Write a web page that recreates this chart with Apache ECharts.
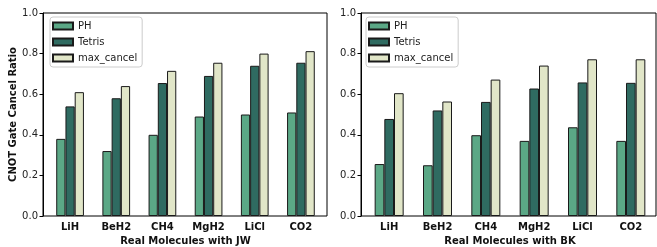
<!DOCTYPE html>
<html>
<head>
<meta charset="utf-8">
<script src="https://cdn.jsdelivr.net/npm/echarts@6/dist/echarts.min.js"></script>
<style>
  html, body { margin: 0; padding: 0; background: #fff; }
  #chart { width: 657px; height: 247px; }
</style>
</head>
<body>
<div id="chart"></div>
<script>
// molecules on the x axis
const molecules = ['LiH', 'BeH2', 'CH4', 'MgH2', 'LiCl', 'CO2']
const seriesNames = ['PH', 'Tetris', 'max_cancel']
const yTicks = [0, 0.2, 0.4, 0.6, 0.8, 1.0]

// JW encoding (left panel)
const jwPH = [0.38, 0.32, 0.40, 0.49, 0.50, 0.51]
const jwTetris = [0.54, 0.58, 0.655, 0.69, 0.74, 0.755]
const jwMax = [0.61, 0.64, 0.715, 0.755, 0.80, 0.812]

// BK encoding (right panel)
const bkPH = [0.256, 0.25, 0.398, 0.37, 0.437, 0.37]
const bkTetris = [0.478, 0.52, 0.562, 0.628, 0.658, 0.656]
const bkMax = [0.605, 0.564, 0.672, 0.741, 0.772, 0.772]

const colors = ['#5ba886', '#2f6b61', '#e1e6c8']
const font = 'DejaVu Sans'
const textColor = '#111'

// grids 0/1: frames with the visible y axis, grids 2/3: bars (matplotlib-like x margins)
const frames = [
  { left: 43, top: 13, width: 284, height: 203 },
  { left: 361, top: 13, width: 295, height: 203 }
]
const inner = [
  { left: 47, top: 13, width: 277, height: 203 },
  { left: 365, top: 13, width: 290, height: 203 }
]

function frameX(idx) {
  return { type: 'value', gridIndex: idx, show: false, min: 0, max: 1 }
}

function barX(idx, name) {
  return {
    type: 'category',
    gridIndex: idx,
    data: molecules,
    name: name,
    nameLocation: 'middle',
    nameGap: 12,
    nameTextStyle: { fontFamily: font, fontSize: 10, fontWeight: 'bold', color: textColor },
    axisLine: { show: false },
    axisTick: { alignWithLabel: true, length: 3.5, lineStyle: { color: '#000' } },
    axisLabel: { fontFamily: font, fontSize: 10, fontWeight: 'bold', color: textColor, margin: 6 }
  }
}

function frameY(idx, name) {
  return {
    type: 'value',
    gridIndex: idx,
    min: 0,
    max: 1,
    interval: 0.2,
    name: name,
    nameLocation: 'middle',
    nameGap: 25,
    nameTextStyle: { fontFamily: font, fontSize: 10, fontWeight: 'bold', color: textColor },
    splitLine: { show: false },
    axisLine: { show: true, lineStyle: { color: '#000', width: 1 } },
    axisTick: { show: true, length: 3.5, lineStyle: { color: '#000' } },
    axisLabel: {
      fontFamily: font, fontSize: 10, color: '#222', margin: 5,
      formatter: v => yTicks.includes(v) ? v.toFixed(1) : ''
    }
  }
}

function barY(idx) {
  return { type: 'value', gridIndex: idx, min: 0, max: 1, show: false }
}

function bars(axisIdx, values) {
  return values.map((d, i) => ({
    name: seriesNames[i],
    type: 'bar',
    xAxisIndex: axisIdx,
    yAxisIndex: axisIdx,
    data: d,
    barWidth: '20%',
    barGap: '0%',
    itemStyle: { color: colors[i], borderColor: '#1a1a1a', borderWidth: 1 },
    emphasis: { disabled: true },
    animation: false
  }))
}

function legend(left) {
  return {
    data: seriesNames,
    orient: 'vertical',
    left: left,
    top: 17,
    icon: 'rect',
    itemWidth: 20,
    itemHeight: 7,
    itemGap: 4,
    padding: [3, 5, 3, 2],
    borderColor: '#cccccc',
    borderWidth: 1,
    borderRadius: 3,
    backgroundColor: 'rgba(255,255,255,0.8)',
    textStyle: { fontFamily: font, fontSize: 10, color: '#222', lineHeight: 12 },
    selectedMode: false
  }
}

const gridBase = { outerBoundsMode: 'none', containLabel: false }
const chart = echarts.init(document.getElementById('chart'), null, { renderer: 'canvas' })
chart.setOption({
  animation: false,
  color: colors,
  grid: [
    Object.assign({ show: true, borderColor: '#000', borderWidth: 1 }, gridBase, frames[0]),
    Object.assign({ show: true, borderColor: '#000', borderWidth: 1 }, gridBase, frames[1]),
    Object.assign({}, gridBase, inner[0]),
    Object.assign({}, gridBase, inner[1])
  ],
  legend: [legend(50), legend(366)],
  xAxis: [frameX(0), frameX(1), barX(2, 'Real Molecules with JW'), barX(3, 'Real Molecules with BK')],
  yAxis: [frameY(0, 'CNOT Gate Cancel Ratio'), frameY(1, ''), barY(2), barY(3)],
  series: bars(2, [jwPH, jwTetris, jwMax]).concat(bars(3, [bkPH, bkTetris, bkMax]))
})
</script>
</body>
</html>
